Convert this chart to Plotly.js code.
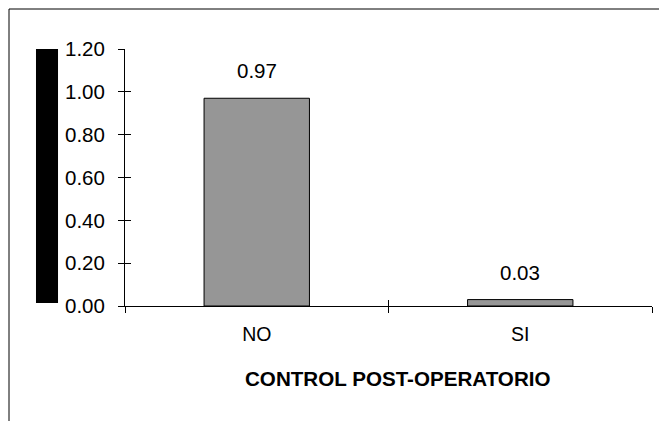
<!DOCTYPE html>
<html>
<head>
<meta charset="utf-8">
<script src="https://cdn.plot.ly/plotly-3.0.1.min.js"></script>
<style>html,body{margin:0;padding:0;background:#fff;}#chart{width:659px;height:421px;}</style>
</head>
<body>
<div id="chart"></div>
<script>
var categories = ["NO", "SI"];
var values = [0.97, 0.03];
var valueLabels = ["0.97", "0.03"];
var yTickVals = [0, 0.2, 0.4, 0.6, 0.8, 1.0, 1.2];
var yTickText = ["0.00", "0.20", "0.40", "0.60", "0.80", "1.00", "1.20"];
var xTitle = "CONTROL POST-OPERATORIO";

var FONT = "Liberation Sans, Arial, sans-serif";

var traces = [
  {
    type: "bar",
    x: categories,
    y: values,
    marker: {color: "#969696", line: {color: "#000", width: 1}},
    hoverinfo: "skip",
    showlegend: false
  },
  {
    type: "scatter",
    mode: "none",
    x: categories,
    y: values,
    xaxis: "x2",
    yaxis: "y2",
    hoverinfo: "skip",
    showlegend: false
  }
];

var annotations = categories.map(function (c, i) {
  return {
    x: c, y: values[i], xref: "x", yref: "y",
    text: valueLabels[i], showarrow: false,
    yanchor: "bottom", yshift: 14,
    font: {family: FONT, size: 20.5, color: "#000"}
  };
});
annotations.push({
  x: 0.518, y: -0.284, xref: "paper", yref: "paper",
  text: "<b>" + xTitle + "</b>", showarrow: false,
  xanchor: "center", yanchor: "middle",
  font: {family: FONT, size: 20.6, color: "#000"}
});

var layout = {
  width: 659, height: 421,
  margin: {l: 125, r: 7, t: 49, b: 115, pad: 0},
  paper_bgcolor: "#fff", plot_bgcolor: "#fff",
  bargap: 0.6,
  font: {family: FONT, size: 19, color: "#000"},
  xaxis: {
    type: "category", range: [-0.5, 1.5],
    showline: true, linecolor: "#000", linewidth: 1,
    ticks: "outside", ticklen: 6, tickcolor: "#000", tickwidth: 1,
    ticklabelstandoff: 11,
    tickson: "boundaries", showgrid: false, zeroline: false,
    tickfont: {family: FONT, size: 19.5, color: "#000"}
  },
  xaxis2: {
    type: "category", range: [-0.5, 1.5], overlaying: "x",
    showline: false, ticks: "inside", ticklen: 6, tickcolor: "#000", tickwidth: 1,
    tickson: "boundaries", showgrid: false, zeroline: false, showticklabels: false
  },
  yaxis: {
    range: [0, 1.2], tickvals: yTickVals, ticktext: yTickText,
    showline: true, linecolor: "#000", linewidth: 1,
    ticks: "outside", ticklen: 6, tickcolor: "#000", tickwidth: 1,
    ticklabelstandoff: 9,
    showgrid: false, zeroline: false,
    tickfont: {family: FONT, size: 20.5, color: "#000"}
  },
  yaxis2: {
    range: [0, 1.2], overlaying: "y", tickvals: yTickVals,
    showline: false, ticks: "inside", ticklen: 6, tickcolor: "#000", tickwidth: 1,
    showgrid: false, zeroline: false, showticklabels: false
  },
  annotations: annotations,
  shapes: [
    {type: "rect", xref: "paper", yref: "y", x0: -0.1689, x1: -0.1271, y0: 0.014, y1: 1.2,
     fillcolor: "#000", line: {width: 0}},
    {type: "rect", xref: "paper", yref: "paper", x0: -0.2201, x1: 1.03, y0: -0.5, y1: 1.1556,
     fillcolor: "rgba(0,0,0,0)", line: {color: "#000", width: 1}}
  ]
};

Plotly.newPlot("chart", traces, layout, {displayModeBar: false, staticPlot: true});
</script>
</body>
</html>
